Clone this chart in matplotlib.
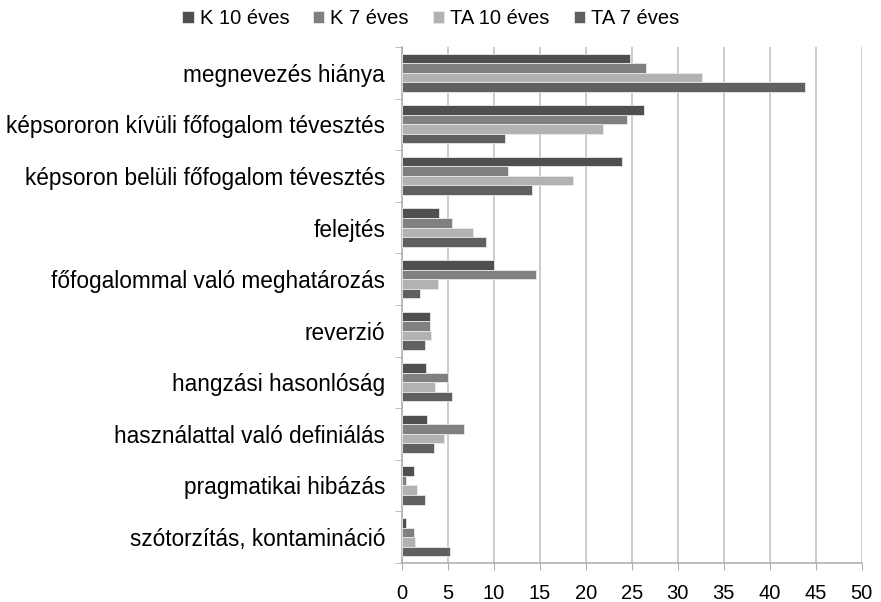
import matplotlib
matplotlib.use("Agg")
import matplotlib.pyplot as plt
import numpy as np

plt.rcParams['font.family'] = ['Liberation Sans', 'DejaVu Sans']

categories = [
    "megnevezés hiánya",
    "képsororon kívüli főfogalom tévesztés",
    "képsoron belüli főfogalom tévesztés",
    "felejtés",
    "főfogalommal való meghatározás",
    "reverzió",
    "hangzási hasonlóság",
    "használattal való definiálás",
    "pragmatikai hibázás",
    "szótorzítás, kontamináció",
]
series_names = ["K 10 éves", "K 7 éves", "TA 10 éves", "TA 7 éves"]
k10 = [24.8, 26.3, 23.9, 4.1, 10.0, 3.1, 2.6, 2.8, 1.3, 0.5]
k7 = [26.6, 24.5, 11.6, 5.5, 14.6, 3.1, 5.0, 6.8, 0.5, 1.3]
ta10 = [32.6, 21.9, 18.6, 7.8, 3.9, 3.2, 3.6, 4.6, 1.7, 1.4]
ta7 = [43.8, 11.2, 14.2, 9.2, 2.0, 2.5, 5.5, 3.5, 2.5, 5.2]
colors = ["#4f4f4f", "#808080", "#b2b2b2", "#606060"]

fig = plt.figure(figsize=(8.81, 6.02), dpi=100)
ax = fig.add_axes([0.456, 0.065, 0.522, 0.857])

y = np.arange(len(categories))
h = 0.185
for i, (name, vals) in enumerate(zip(series_names, [k10, k7, ta10, ta7])):
    ax.barh(y + (i - 1.5) * h, vals, height=h, color=colors[i], label=name,
            edgecolor="#e8e8e8", linewidth=0.6, zorder=3)

ax.set_xlim(0, 50)
ax.set_ylim(len(categories) - 0.5, -0.5)
ax.set_xticks(np.arange(0, 51, 5))
ax.set_yticks(y)
ax.set_yticklabels(categories, fontsize=16.3)
ax.set_yticks(np.arange(-0.5, len(categories), 1), minor=True)
ax.tick_params(axis='y', which='major', length=0, pad=12)
ax.tick_params(axis='y', which='minor', length=5, color="#b0b0b0", direction='out')
ax.tick_params(axis='x', length=5, color="#b0b0b0", labelsize=14.5, pad=10)
ax.grid(axis='x', color="#c4c4c4", linewidth=1.2, zorder=0)
for s in ['top', 'right']:
    ax.spines[s].set_visible(False)
ax.spines['left'].set_color("#b0b0b0")
ax.spines['bottom'].set_color("#b0b0b0")
ax.spines['left'].set_linewidth(1.2)
ax.spines['bottom'].set_linewidth(1.2)

fig.legend(loc='upper center', bbox_to_anchor=(0.489, 1.015), ncol=4, frameon=False,
           fontsize=14.5, handlelength=0.55, handleheight=0.55, handletextpad=0.3,
           columnspacing=1.2)

fig.savefig("out.png", dpi=100)
